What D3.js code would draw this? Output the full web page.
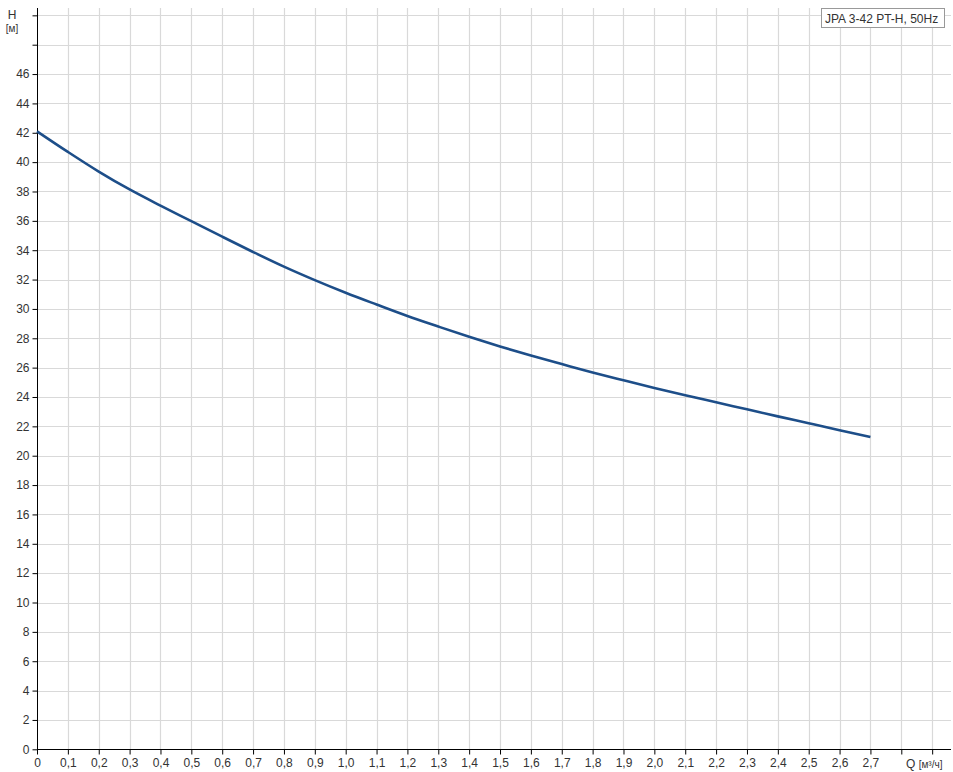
<!DOCTYPE html>
<html>
<head>
<meta charset="utf-8">
<script src="https://cdn.jsdelivr.net/npm/d3@7"></script>
<style>
  html, body { margin: 0; padding: 0; background: #fff; }
  svg { display: block; font-family: "Liberation Sans", Arial, sans-serif; }
</style>
</head>
<body>
<svg id="chart" width="953" height="772"></svg>
<script>
// ---- data ----
const flowQ = [0, 0.1, 0.2, 0.3, 0.4, 0.5, 0.6, 0.7, 0.8, 0.9, 1.0, 1.1, 1.2, 1.3, 1.4,
               1.5, 1.6, 1.7, 1.8, 1.9, 2.0, 2.1, 2.2, 2.3, 2.4, 2.5, 2.6, 2.7];
const headH = [42.1, 40.7, 39.36, 38.14, 37.04, 35.98, 34.92, 33.88, 32.88, 31.96, 31.1, 30.3,
               29.52, 28.8, 28.1, 27.44, 26.82, 26.24, 25.67, 25.14, 24.62, 24.12, 23.64, 23.16,
               22.68, 22.21, 21.74, 21.27];
const xTicks = [0, 0.1, 0.2, 0.3, 0.4, 0.5, 0.6, 0.7, 0.8, 0.9, 1.0, 1.1, 1.2, 1.3, 1.4,
                1.5, 1.6, 1.7, 1.8, 1.9, 2.0, 2.1, 2.2, 2.3, 2.4, 2.5, 2.6, 2.7, 2.8, 2.9];
const xTickLabels = ["0", "0,1", "0,2", "0,3", "0,4", "0,5", "0,6", "0,7", "0,8", "0,9", "1,0",
                     "1,1", "1,2", "1,3", "1,4", "1,5", "1,6", "1,7", "1,8", "1,9", "2,0", "2,1",
                     "2,2", "2,3", "2,4", "2,5", "2,6", "2,7", "", ""];
const yTicks = [0, 2, 4, 6, 8, 10, 12, 14, 16, 18, 20, 22, 24, 26, 28, 30, 32, 34, 36, 38, 40,
                42, 44, 46, 48, 50];
const yTickLabels = ["0", "2", "4", "6", "8", "10", "12", "14", "16", "18", "20", "22", "24",
                     "26", "28", "30", "32", "34", "36", "38", "40", "42", "44", "46", "", ""];
const legendLabel = "JPA 3-42 PT-H, 50Hz";
const yTitle = "H", yUnit = "[м]";
const xTitle = "Q", xUnit = "[м³/ч]";

// ---- layout ----
const svg = d3.select("#chart");
const x0 = 37, x1 = 951, y0 = 749.3;
const x = d3.scaleLinear().domain([0, 2.961]).range([x0, x1]);
const y = d3.scaleLinear().domain([0, 50.5]).range([y0, 8]);

const gridColor = "#d9d9d9";
const grid = svg.append("g");
grid.selectAll("line.v").data(xTicks.filter(d => d > 0)).enter().append("line")
  .attr("x1", d => Math.round(x(d)) + 0.5).attr("x2", d => Math.round(x(d)) + 0.5)
  .attr("y1", y(0)).attr("y2", y(50.5))
  .attr("stroke", gridColor).attr("stroke-width", 1.2);
grid.selectAll("line.h").data(yTicks.filter(d => d > 0)).enter().append("line")
  .attr("x1", x0).attr("x2", x1)
  .attr("y1", d => Math.round(y(d)) + 0.5).attr("y2", d => Math.round(y(d)) + 0.5)
  .attr("stroke", gridColor).attr("stroke-width", 1.2);

// axes
const xAxis = d3.axisBottom(x).tickValues(xTicks).tickSize(5).tickPadding(4)
  .tickFormat((d, i) => xTickLabels[i]);
const gx = svg.append("g").attr("transform", `translate(0,${Math.round(y0) + 0.5})`).call(xAxis);
gx.select(".domain").attr("d", `M${x0},0H${x1}`).attr("stroke", "#000");
gx.selectAll(".tick line").attr("stroke", "#000");
gx.selectAll(".tick text").attr("fill", "#333").style("font-size", "12px");

const yAxis = d3.axisLeft(y).tickValues(yTicks).tickSize(5).tickPadding(3)
  .tickFormat((d, i) => yTickLabels[i]);
const gy = svg.append("g").attr("transform", `translate(${x0 + 0.5},0)`).call(yAxis);
gy.select(".domain").attr("d", `M0,${y(50.5)}V${y0}`).attr("stroke", "#000");
gy.selectAll(".tick line").attr("stroke", "#000");
gy.selectAll(".tick text").attr("fill", "#333").style("font-size", "12px");

// axis titles
svg.append("text").attr("x", 12).attr("y", 19).attr("text-anchor", "middle")
  .attr("fill", "#333").style("font-size", "12px").text(yTitle);
svg.append("text").attr("x", 12).attr("y", 32).attr("text-anchor", "middle")
  .attr("fill", "#333").style("font-size", "10px").text(yUnit);
const qt = svg.append("text").attr("x", 906).attr("y", 768).attr("fill", "#333");
qt.append("tspan").style("font-size", "12px").text(xTitle + " ");
qt.append("tspan").style("font-size", "10px").text(xUnit);

// curve
const line = d3.line().x((d, i) => x(flowQ[i])).y(d => y(d)).curve(d3.curveCatmullRom);
svg.append("path").datum(headH).attr("d", line)
  .attr("fill", "none").attr("stroke", "#1d4e89").attr("stroke-width", 2.6);

// legend
const lg = svg.append("g");
lg.append("rect").attr("x", 821.5).attr("y", 8.5).attr("width", 123).attr("height", 19)
  .attr("fill", "#fff").attr("stroke", "#999");
lg.append("text").attr("x", 825).attr("y", 22.5).attr("fill", "#333")
  .style("font-size", "12px").text(legendLabel);
</script>
</body>
</html>
